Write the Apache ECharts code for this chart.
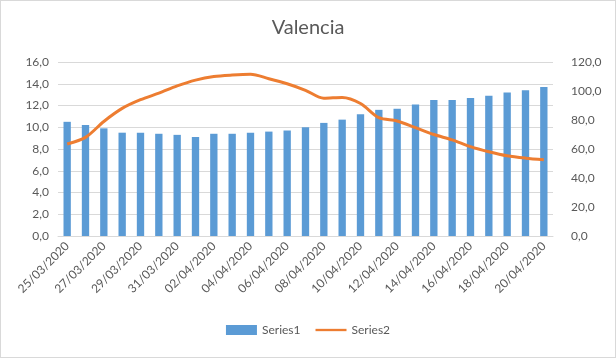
<!DOCTYPE html>
<html><head><meta charset="utf-8">
<script src="https://cdn.jsdelivr.net/npm/echarts@6/dist/echarts.min.js"></script>
<style>html,body{margin:0;padding:0;background:#fff}#c{width:616px;height:358px;box-sizing:border-box;border:1px solid #d9d9d9}</style>
</head><body><div id="c"></div>
<script>
var categories = ["25/03/2020","26/03/2020","27/03/2020","28/03/2020","29/03/2020","30/03/2020","31/03/2020","01/04/2020","02/04/2020","03/04/2020","04/04/2020","05/04/2020","06/04/2020","07/04/2020","08/04/2020","09/04/2020","10/04/2020","11/04/2020","12/04/2020","13/04/2020","14/04/2020","15/04/2020","16/04/2020","17/04/2020","18/04/2020","19/04/2020","20/04/2020"];
var series1 = [10.5,10.2,9.9,9.5,9.5,9.4,9.3,9.1,9.4,9.4,9.5,9.6,9.7,10.0,10.4,10.7,11.2,11.6,11.7,12.1,12.5,12.5,12.7,12.9,13.2,13.4,13.7];
var series2 = [63.5,68,79,88,94,98.5,103.5,107.5,110,111,111.5,108.5,105,100.5,95,95.6,91.4,81.6,79.3,74.7,70,66.3,61.6,58.1,55.3,53.7,52.6];
var leftTicks = {min:0,max:16,interval:2};
var rightTicks = {min:0,max:120,interval:20};
function fmt(v){return v.toFixed(1).replace('.',',');}
var chart = echarts.init(document.getElementById('c'));
var txt = '#595959', font = 'Lato, "Liberation Sans", sans-serif';
chart.setOption({
  animation:false,
  textStyle:{fontFamily:font},
  title:{text:'Valencia',left:'center',top:12,textStyle:{fontFamily:font,fontSize:20,fontWeight:'normal',color:txt}},
  legend:{bottom:16,left:'center',itemGap:15,itemWidth:31,itemHeight:10,textStyle:{color:txt,fontSize:12,fontFamily:font},
    data:[{name:'Series1',icon:'rect'},{name:'Series2',icon:'path://M0,0h40v3h-40z'}]},
  grid:{left:57,right:62,top:61,bottom:121,containLabel:false},
  xAxis:{type:'category',data:categories,
    axisLine:{lineStyle:{color:'#d9d9d9'}},
    axisTick:{interval:1,length:5,lineStyle:{color:'#d9d9d9'}},
    axisLabel:{interval:1,rotate:45,color:txt,fontSize:12,margin:8,fontFamily:font}},
  yAxis:[
    {type:'value',min:leftTicks.min,max:leftTicks.max,interval:leftTicks.interval,
     axisLabel:{formatter:fmt,color:txt,fontSize:12,margin:9,fontFamily:font},
     splitLine:{lineStyle:{color:'#d9d9d9'}},axisLine:{show:false},axisTick:{show:false}},
    {type:'value',min:rightTicks.min,max:rightTicks.max,interval:rightTicks.interval,
     axisLabel:{formatter:fmt,color:txt,fontSize:12,margin:18,fontFamily:font},
     splitLine:{show:false},axisLine:{show:false},axisTick:{show:false}}
  ],
  series:[
    {name:'Series1',type:'bar',data:series1,barWidth:'40%',itemStyle:{color:'#5b9bd5'},yAxisIndex:0},
    {name:'Series2',type:'line',data:series2,yAxisIndex:1,smooth:0.3,symbol:'none',lineStyle:{color:'#ed7d31',width:3},itemStyle:{color:'#ed7d31'}}
  ]
});
</script></body></html>
